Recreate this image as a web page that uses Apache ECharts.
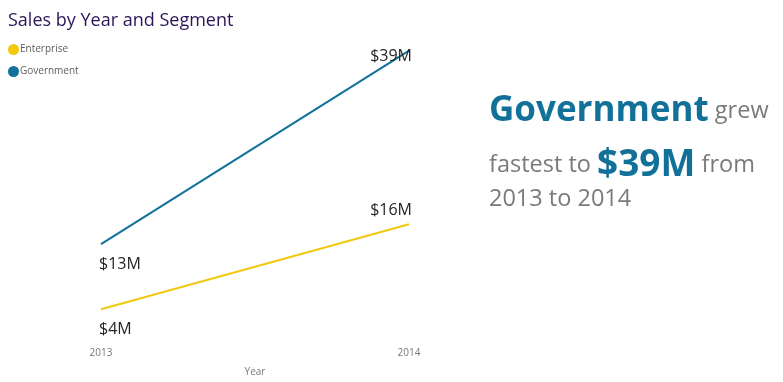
<!DOCTYPE html>
<html><head><meta charset="utf-8">
<script src="https://cdn.jsdelivr.net/npm/echarts@6/dist/echarts.min.js"></script>
<style>html,body{margin:0;padding:0;background:#fff}#c{width:783px;height:382px}</style>
</head><body><div id="c"></div>
<script>
const years = ['2013', '2014'];
const enterprise = [4.2, 15.8];
const government = [13.1, 39.5];
const seriesNames = ['Enterprise', 'Government'];
const labelTexts = { Enterprise: ['$4M', '$16M'], Government: ['$13M', '$39M'] };

const colors = ['#F2C80F', '#127199'];
const font = '"Open Sans", "Noto Sans", sans-serif';

const lastOffset = { Enterprise: [3, -14], Government: [3, 6] };
function buildData(name, vals) {
  return vals.map((v, i) => ({
    value: v,
    label: i === 0
      ? { position: 'inside', align: 'left', offset: [-2, 20], formatter: labelTexts[name][i] }
      : { position: 'inside', align: 'right', offset: lastOffset[name], formatter: labelTexts[name][i] }
  }));
}

const chart = echarts.init(document.getElementById('c'));
chart.setOption({
  animation: false,
  title: {
    text: 'Sales by Year and Segment', left: 3, top: 7,
    textStyle: { fontFamily: font, fontSize: 18, fontWeight: 'normal', color: '#2B1458' }
  },
  legend: {
    orient: 'vertical', left: 3, top: 39, itemGap: 11, itemWidth: 11, itemHeight: 11,
    icon: 'circle', data: seriesNames,
    textStyle: { fontFamily: font, fontSize: 10, color: '#605E5C', padding: [0, 0, 0, -4] }
  },
  grid: { left: 101, right: 374, top: 47, bottom: 42 },
  xAxis: {
    type: 'category', data: years, boundaryGap: false,
    name: 'Year', nameLocation: 'middle', nameGap: 27,
    nameTextStyle: { fontFamily: font, fontSize: 10, color: '#777' },
    axisLine: { show: false }, axisTick: { show: false },
    axisLabel: { fontFamily: font, fontSize: 10, color: '#777', margin: 8 },
    splitLine: { show: false }
  },
  yAxis: { type: 'value', min: 0, max: 40, show: false },
  series: [
    { name: 'Enterprise', type: 'line', data: buildData('Enterprise', enterprise), color: colors[0],
      showSymbol: true, symbol: 'circle', symbolSize: 0, lineStyle: { width: 2 },
      label: { show: true, fontFamily: font, fontSize: 16, color: '#252423' } },
    { name: 'Government', type: 'line', data: buildData('Government', government), color: colors[1],
      showSymbol: true, symbol: 'circle', symbolSize: 0, lineStyle: { width: 2 },
      label: { show: true, fontFamily: font, fontSize: 16, color: '#252423' } }
  ],
  graphic: [
    { type: 'text', left: 489, top: 94,
      style: { text: '{b|Government}{g| grew}', rich: {
        b: { fontFamily: font, fontSize: 35, fontWeight: 'bold', fill: '#127199', lineHeight: 40 },
        g: { fontFamily: font, fontSize: 23.5, fill: '#7A7A7A', lineHeight: 40 } } } },
    { type: 'text', left: 489, top: 147,
      style: { text: '{g|fastest to }{b|$39M}{g| from}', rich: {
        b: { fontFamily: font, fontSize: 37, fontWeight: 'bold', fill: '#127199', lineHeight: 40 },
        g: { fontFamily: font, fontSize: 23.5, fill: '#7A7A7A', lineHeight: 40 } } } },
    { type: 'text', left: 489, top: 187,
      style: { text: '{g|2013 to 2014}', rich: {
        g: { fontFamily: font, fontSize: 23.5, fill: '#7A7A7A', lineHeight: 30 } } } }
  ]
});
</script></body></html>
